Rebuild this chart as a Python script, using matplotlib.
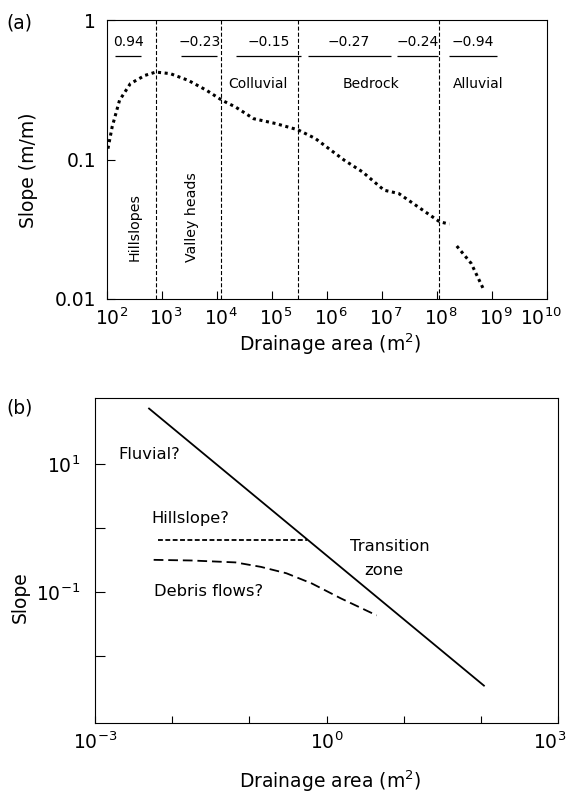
import matplotlib
matplotlib.use("Agg")
import matplotlib.pyplot as plt
import matplotlib.transforms as mtransforms
import numpy as np

plt.rcParams['font.family'] = ['DejaVu Sans']
plt.rcParams['mathtext.fontset'] = 'dejavusans'
plt.rcParams['lines.scale_dashes'] = False

# panel (a): slope-area curve
area_a = [1.04e2, 1.24e2, 1.69e2, 2.66e2, 4.89e2, 7.71e2, 1.42e3, 3.02e3, 6.47e3,
          1.24e4, 2.18e4, 4.66e4, 1.16e5, 2.97e5, 6.17e5, 2.08e6, 4.44e6, 1.10e7,
          2.03e7, 3.72e7, 1.13e8, 1.70e8]
slope_a = [0.120, 0.172, 0.267, 0.352, 0.403, 0.426, 0.415, 0.371, 0.315,
           0.267, 0.239, 0.197, 0.182, 0.164, 0.142, 0.0991, 0.0818, 0.0604,
           0.0572, 0.0485, 0.0358, 0.0345]
area_a2 = [2.31e8, 4.23e8, 7.19e8]
slope_a2 = [0.0240, 0.0180, 0.0116]

bounds_a = [7.7e2, 1.2e4, 3.0e5, 1.1e8]
seg_start = [10**2.15, 10**3.35, 10**4.35, 10**5.65, 10**7.28, 10**8.23]
seg_end = [10**2.62, 10**4.01, 10**5.53, 10**7.16, 10**8.02, 10**9.09]
seg_labels = ["0.94", "\u22120.23", "\u22120.15", "\u22120.27", "\u22120.24", "\u22120.94"]
region_labels = ["Colluvial", "Bedrock", "Alluvial"]
region_x = [10**4.75, 10**6.8, 10**8.75]
vert_labels = ["Hillslopes", "Valley heads"]
vert_x = [10**2.5, 10**3.55]
vert_y = [0.033, 0.039]

xticks_a = [1e2, 1e3, 1e4, 1e5, 1e6, 1e7, 1e8, 1e9, 1e10]
xticklabels_a = ["$10^{%d}$" % k for k in range(2, 11)]

# panel (b): schematic
fluvial_x = [10**-2.3, 10**2.04]
fluvial_y = [10**1.87, 10**-2.47]
hill_x = [10**-2.19, 10**-0.25]
hill_y = [0.65, 0.65]
debris_x = [10**-2.24, 10**-1.75, 10**-1.18, 10**-0.85, 10**-0.52, 10**-0.19, 10**0.18, 10**0.65]
debris_y = [10**-0.50, 10**-0.51, 10**-0.54, 10**-0.61, 10**-0.71, 10**-0.87, 10**-1.10, 10**-1.37]

fig = plt.figure(figsize=(5.68, 7.93), dpi=100)

ax = fig.add_axes([0.1884, 0.6230, 0.7741, 0.3512])
ax.set_xscale('log')
ax.set_yscale('log')
ax.set_xlim(1e2, 1e10)
ax.set_ylim(0.01, 1)
ax.plot(area_a, slope_a, color='black', lw=2.2, linestyle=(0, (2.2, 2.6)))
ax.plot(area_a2, slope_a2, color='black', lw=2.2, linestyle=(0, (2.2, 2.6)))
for b in bounds_a:
    ax.axvline(b, color='black', lw=0.8, linestyle=(0, (2.9, 1.5)))
ax.hlines([0.56] * len(seg_start), seg_start, seg_end, color='black', lw=0.9)
for s, e, lab in zip(seg_start, seg_end, seg_labels):
    ax.text(np.sqrt(s * e), 0.70, lab, ha='center', va='center', fontsize=10)
for x, lab in zip(region_x, region_labels):
    ax.text(x, 0.347, lab, ha='center', va='center', fontsize=10)
for x, y, lab in zip(vert_x, vert_y, vert_labels):
    ax.text(x, y, lab, ha='center', va='center', rotation=90, fontsize=10.2)

ax.set_xticks(xticks_a)
ax.set_xticklabels(xticklabels_a)
ax.xaxis.set_minor_locator(matplotlib.ticker.NullLocator())
ax.set_yticks([0.01, 0.1, 1])
ax.set_yticklabels(["0.01", "0.1", "1"])
ax.yaxis.set_minor_locator(matplotlib.ticker.NullLocator())
ax.tick_params(direction='in', length=5.5, width=0.8, labelsize=13.5)
ax.tick_params(axis='y', pad=8)
ax.tick_params(axis='x', pad=6)
# the base "10" sits over the tick, exponent hangs to the right;
# the last label is pulled in so it stays inside the figure
shift = mtransforms.ScaledTranslation(3 / 72, 0, fig.dpi_scale_trans)
xlabs = ax.get_xticklabels()
for lab in xlabs[:-1]:
    lab.set_transform(lab.get_transform() + shift)
xlabs[-1].set_transform(xlabs[-1].get_transform()
                        + mtransforms.ScaledTranslation(-4 / 72, 0, fig.dpi_scale_trans))
ax.set_xlabel("Drainage area (m$^2$)", fontsize=13.5)
ax.set_ylabel("Slope (m/m)", fontsize=13.5)
ax.xaxis.label.set_va('center')
ax.yaxis.label.set_va('center')
ax.xaxis.set_label_coords(0.507, -0.162)
ax.yaxis.set_label_coords(-0.179, 0.463)
for sp in ax.spines.values():
    sp.set_linewidth(0.8)
fig.text(0.012, 0.9716, "(a)", fontsize=13.4, ha='left', va='center')

ax2 = fig.add_axes([0.1673, 0.0879, 0.8151, 0.4098])
ax2.set_xscale('log')
ax2.set_yscale('log')
ax2.set_xlim(1e-3, 1e3)
ax2.set_ylim(10**-3.06, 10**2.03)
ax2.plot(fluvial_x, fluvial_y, color='black', lw=1.3)
ax2.plot(hill_x, hill_y, color='black', lw=1.3, linestyle=(0, (3.5, 1.8)))
ax2.plot(debris_x, debris_y, color='black', lw=1.3, linestyle=(0, (7, 3.5)))
ax2.text(10**-2.295, 10**1.15, "Fluvial?", ha='center', va='center', fontsize=11.8)
ax2.text(10**-1.77, 10**0.14, "Hillslope?", ha='center', va='center', fontsize=11.8)
ax2.text(10**0.815, 10**-0.294, "Transition", ha='center', va='center', fontsize=11.8)
ax2.text(10**0.745, 10**-0.66, "zone", ha='center', va='center', fontsize=11.8)
ax2.text(10**-1.534, 10**-1.0, "Debris flows?", ha='center', va='center', fontsize=11.8)

ax2.set_xticks([10.0**k for k in range(-3, 4)])
ax2.set_xticklabels(["$10^{-3}$", "", "", "$10^{0}$", "", "", "$10^{3}$"])
ax2.xaxis.set_minor_locator(matplotlib.ticker.NullLocator())
ax2.set_yticks([1e-2, 1e-1, 1e0, 1e1])
ax2.set_yticklabels(["", "$10^{-1}$", "", "$10^{1}$"])
ax2.yaxis.set_minor_locator(matplotlib.ticker.NullLocator())
ax2.tick_params(direction='in', width=0.8, labelsize=13.5)
ax2.tick_params(axis='x', length=5, pad=6)
ax2.tick_params(axis='y', length=7, pad=11)
last = ax2.get_xticklabels()[-1]
last.set_transform(last.get_transform()
                   + mtransforms.ScaledTranslation(-6 / 72, 0, fig.dpi_scale_trans))
ax2.set_xlabel("Drainage area (m$^2$)", fontsize=13.5)
ax2.set_ylabel("Slope", fontsize=13.5)
ax2.xaxis.label.set_va('center')
ax2.yaxis.label.set_va('center')
ax2.xaxis.set_label_coords(0.507, -0.179)
ax2.yaxis.set_label_coords(-0.162, 0.387)
for sp in ax2.spines.values():
    sp.set_linewidth(0.8)
fig.text(0.012, 0.4861, "(b)", fontsize=13.4, ha='left', va='center')

fig.savefig("out.png", dpi=100)
